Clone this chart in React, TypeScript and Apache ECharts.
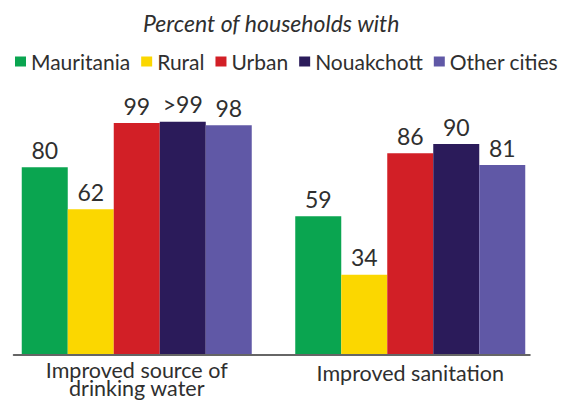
import React, { useEffect, useRef } from "react";
import * as echarts from "echarts";

const categories = ["Improved source of\ndrinking water", "Improved sanitation"];
const seriesNames = ["Mauritania", "Rural", "Urban", "Nouakchott", "Other cities"];
const mauritania = [80, 59];
const rural = [62, 34];
const urban = [99, 86];
const nouakchott = [99.5, 90];
const otherCities = [98, 81];
const nouakchottLabels = [">99", "90"];
const colors = ["#0aa550", "#fbd700", "#d21f26", "#2b1b5a", "#6058a6"];

const FONT = "Lato, 'Open Sans', sans-serif";

export default function App() {
  const ref = useRef<HTMLDivElement>(null);
  useEffect(() => {
    if (!ref.current) return;
    const chart = echarts.init(ref.current, null, { renderer: "svg" });
    const values = [mauritania, rural, urban, nouakchott, otherCities];
    const series = seriesNames.map((name, i) => ({
      name,
      type: "bar",
      xAxisIndex: 0,
      yAxisIndex: 0,
      barWidth: 46,
      barGap: "0%",
      itemStyle: { color: colors[i] },
      label: {
        show: true,
        position: "top",
        distance: 6,
        fontSize: 23,
        fontFamily: FONT,
        color: "#2f2f2f",
        formatter: (p: any) =>
          i === 3 ? nouakchottLabels[p.dataIndex] : String(p.value),
      },
      data: values[i],
    }));
    chart.setOption({
      animation: false,
      backgroundColor: "#ffffff",
      title: {
        text: "Percent of households with",
        left: 138,
        top: 6,
        textStyle: {
          fontFamily: FONT,
          fontStyle: "italic",
          fontWeight: "normal",
          fontSize: 23,
          color: "#2f2f2f",
        },
      },
      legend: {
        left: 10,
        top: 46,
        width: 560,
        icon: "rect",
        itemWidth: 11,
        itemHeight: 10,
        itemGap: 11,
        data: seriesNames,
        textStyle: {
          fontFamily: FONT,
          fontSize: 21,
          color: "#2f2f2f",
        },
      },
      grid: [
        { left: -3.5, right: 17, top: 120.7, bottom: 48 },
        { left: 13.5, right: 34, top: 120.7, bottom: 47.5 },
      ],
      xAxis: [
        {
          type: "category",
          gridIndex: 0,
          data: [
            categories[0],
            { value: categories[1], textStyle: { padding: [3, 0, 0, 0] } },
          ],
          axisLine: { show: false },
          axisTick: { show: false },
          axisLabel: {
            fontFamily: FONT,
            fontSize: 21.5,
            lineHeight: 18,
            color: "#2f2f2f",
            margin: 7,
          },
        },
        {
          type: "value",
          gridIndex: 1,
          min: 0,
          max: 1,
          axisLine: { show: true, lineStyle: { color: "#333333", width: 1.5 } },
          axisTick: { show: false },
          axisLabel: { show: false },
          splitLine: { show: false },
        },
      ],
      yAxis: [
        { type: "value", gridIndex: 0, min: 0, max: 100, show: false },
        { type: "value", gridIndex: 1, min: 0, max: 1, show: false },
      ],
      series,
    });
    return () => chart.dispose();
  }, []);
  return (
    <div
      ref={ref}
      style={{ position: "absolute", left: 0, top: 0, width: 564, height: 402 }}
    />
  );
}
